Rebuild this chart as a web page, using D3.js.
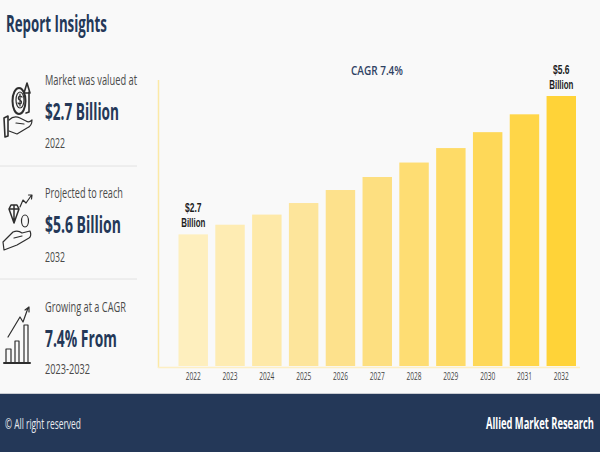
<!DOCTYPE html>
<html lang="en">
<head>
  <meta charset="UTF-8">
  <title>Report Insights</title>
  <style>
    html, body { margin: 0; padding: 0; background: #f9f9f9; overflow: hidden; }
    svg { display: block; }
    text { font-family: "Open Sans", sans-serif; }
    .tick line, .domain { display: none; }
    .icon { fill: none; stroke: #2e2e2e; stroke-width: 1.2; stroke-linejoin: round; stroke-linecap: round; }
  </style>
</head>
<body>
  <svg id="chart" width="600" height="452"></svg>

  <script src="https://d3js.org/d3.v7.min.js"></script>
  <script>
    const years = ["2022", "2023", "2024", "2025", "2026", "2027", "2028", "2029", "2030", "2031", "2032"];
    const values = [2.73, 2.93, 3.14, 3.38, 3.65, 3.92, 4.22, 4.52, 4.85, 5.22, 5.6];
    const insightLabels = ["Market was valued at", "Projected to reach", "Growing at a CAGR"];
    const insightValues = ["$2.7 Billion", "$5.6 Billion", "7.4% From"];
    const insightYears = ["2022", "2032", "2023-2032"];

    const navy = "#243858";
    const svg = d3.select("#chart");

    // squeeze a text sideways to a set width, the source font is narrower than what we have
    function squeeze(sel, x, y, width) {
      sel.attr("x", 0).attr("y", 0);
      const natural = sel.node().getComputedTextLength();
      sel.attr("transform", `translate(${x}, ${y}) scale(${width / natural}, 1)`);
      return sel;
    }

    function label(str, x, y, width, size, weight, color, anchor) {
      const t = svg.append("text")
        .attr("text-anchor", anchor || "start")
        .attr("font-size", size)
        .attr("font-weight", weight)
        .attr("fill", color)
        .text(str);
      return squeeze(t, x, y, width);
    }

    const xScale = d3.scaleBand().domain(years).range([178.5, 576]).paddingInner(0.2);
    const yScale = d3.scaleLinear().domain([0, 5.6]).range([366, 96]);
    const colorScale = d3.scaleLinear()
      .domain([2.7, 3.65, 5.6])
      .range(["#feefc0", "#fde18c", "#ffd338"]);

    // axis lines
    svg.append("line").attr("x1", 158.5).attr("x2", 158.5).attr("y1", 80).attr("y2", 368)
      .attr("stroke", "#fce9a6").attr("stroke-width", 1.5);
    svg.append("line").attr("x1", 158).attr("x2", 580).attr("y1", 367.5).attr("y2", 367.5)
      .attr("stroke", "#fdefc4").attr("stroke-width", 1.5);

    svg.selectAll(".bar")
      .data(values)
      .enter()
      .append("rect")
      .attr("class", "bar")
      .attr("x", (d, i) => xScale(years[i]))
      .attr("y", d => yScale(d))
      .attr("width", xScale.bandwidth())
      .attr("height", d => yScale(0) - yScale(d))
      .attr("fill", d => colorScale(d));

    const xAxis = svg.append("g")
      .attr("transform", "translate(0, 367)")
      .call(d3.axisBottom(xScale).tickSize(0).tickPadding(5));

    xAxis.selectAll("text")
      .attr("font-family", "Open Sans")
      .attr("font-size", 11)
      .attr("fill", "#444")
      .each(function () {
        const t = d3.select(this);
        const y = +t.attr("y");
        const dy = 0.71 * 11;
        squeeze(t.attr("dy", null), 0, y + dy, 15);
      });

    // end labels on the first and last bar
    [0, years.length - 1].forEach(i => {
      const cx = xScale(years[i]) + xScale.bandwidth() / 2;
      const top = yScale(values[i]);
      label("$" + values[i].toFixed(1), cx, top - 22.5, 17, 12.5, 700, "#1d1d1d", "middle")
        .style("font-family", "'Liberation Sans', sans-serif");
      label("Billion", cx, top - 7.5, 25, 12.5, 700, "#1d1d1d", "middle")
        .style("font-family", "'Liberation Sans', sans-serif");
    });

    label("CAGR 7.4%", 377, 75, 52, 13, 600, "#2f4263", "middle");

    // left column
    label("Report Insights", 6, 32, 101, 23, 700, navy);

    const labelY = [85, 198, 312];
    const valueY = [120, 233, 347];
    const yearY = [148, 262, 374];
    const labelW = [92, 78, 81];
    const valueW = [74, 76, 72];
    const yearW = [20, 20, 45];

    insightLabels.forEach((d, i) => {
      label(d, 45, labelY[i], labelW[i], 14, 400, "#4a4a4a");
      label(insightValues[i], 45, valueY[i], valueW[i], 23, 700, navy);
      label(insightYears[i], 45, yearY[i], yearW[i], 14, 400, "#4a4a4a");
    });

    [166, 279].forEach(y => {
      svg.append("line").attr("x1", 0).attr("x2", 137).attr("y1", y).attr("y2", y)
        .attr("stroke", "#e2e2e2").attr("stroke-width", 1);
    });

    // icons
    const iconMoney = svg.append("g").attr("class", "icon");
    iconMoney.append("path").attr("d", "M4 118 L8 116 L8 136 L5 137 Z").attr("stroke-width", 1.6);
    iconMoney.append("path").attr("d", "M9 120 Q14 115 20 118 L26 121 Q29 123 32 120 Q32 126 27 128 L17 134 L9 131 M16 123 L24 124");
    iconMoney.append("ellipse").attr("cx", 19).attr("cy", 101).attr("rx", 6.5).attr("ry", 13).attr("stroke-width", 2);
    iconMoney.append("ellipse").attr("cx", 20).attr("cy", 100).attr("rx", 4).attr("ry", 8);
    iconMoney.append("path").attr("d", "M22 97 Q20 95 18.5 97 Q18 100 20 100 Q22 101 21.5 103 Q20 105 18 103 M20 94 L20 106");
    iconMoney.append("path").attr("d", "M26 113 L29 112 L29 92 M24 93 L27 83 L30 93 Z").attr("stroke-width", 1.6);

    const iconGem = svg.append("g").attr("class", "icon");
    iconGem.append("path").attr("d", "M3 242 L13 232 Q18 230 22 233 L30 231 Q32 236 29 238 L17 245 L4 250 Z M14 238 L22 236");
    iconGem.append("path").attr("d", "M9 209 L11 205 L17 205 L19 209 L14 223 Z M9 209 L19 209 M14 205 L14 223").attr("stroke-width", 1.5);
    iconGem.append("ellipse").attr("cx", 25).attr("cy", 221).attr("rx", 3.5).attr("ry", 6);
    iconGem.append("path").attr("d", "M20 207 L23 200 L26 203 L31 196 M28.5 195 L32 195 L31.5 199");

    const iconBars = svg.append("g").attr("class", "icon");
    iconBars.append("path").attr("d", "M4 363 L30 363").attr("stroke-width", 2);
    iconBars.append("path").attr("d", "M6 363 L6 349 L11 349 L11 363 M15 363 L15 341 L19 341 L19 363 M24 363 L24 325 L28 325 L28 363");
    iconBars.append("path").attr("d", "M8 337 L20 317 L23 322 L28 308 M25 310 L29 307 L29 312");

    // footer
    svg.append("rect").attr("x", 0).attr("y", 394).attr("width", 600).attr("height", 58).attr("fill", navy);
    svg.append("line").attr("x1", 0).attr("x2", 600).attr("y1", 393.5).attr("y2", 393.5)
      .attr("stroke", "#c9ccd2").attr("stroke-width", 1);
    label("© All right reserved", 5, 429, 76, 15, 400, "#e9ebef");
    label("Allied Market Research", 486, 429, 108, 16, 700, "#ffffff");
  </script>
</body>
</html>
